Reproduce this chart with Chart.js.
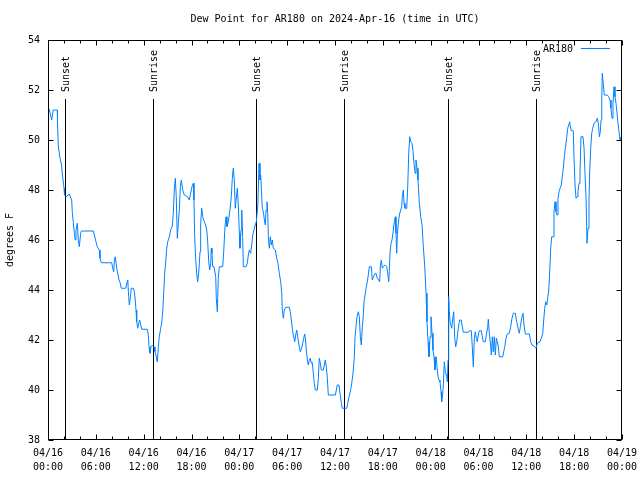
<!DOCTYPE html>
<html>
<head>
<meta charset="utf-8">
<script src="https://cdn.jsdelivr.net/npm/chart.js@4/dist/chart.umd.min.js"></script>
<style>
html,body{margin:0;padding:0;background:#fff;}
canvas{display:block;}
</style>
</head>
<body>
<canvas id="c" width="640" height="480"></canvas>
<script>
// Hours since 2024-04-16 00:00 UTC
const hours = [
0.00,0.16,0.46,0.66,1.17,1.19,1.29,1.51,1.69,1.84,2.01,2.07,2.26,2.67,2.85,2.97,3.05,3.17,3.30,3.42,
3.51,3.68,3.80,3.93,4.10,4.18,5.68,5.81,6.02,6.18,6.44,6.52,6.69,7.99,8.12,8.24,8.32,8.44,8.62,8.74,
8.91,9.07,9.19,9.75,9.91,10.00,10.12,10.20,10.32,10.45,10.70,10.83,10.95,11.04,11.13,11.25,11.38,11.50,11.63,11.75,
12.46,12.58,12.67,12.79,12.92,13.08,13.30,13.42,13.59,13.71,13.84,13.96,14.14,14.26,14.39,14.51,14.64,14.80,14.89,15.02,
15.22,15.39,15.59,15.72,15.84,15.97,16.09,16.22,16.35,16.47,16.60,16.72,16.90,17.10,17.52,17.72,17.90,18.06,18.23,18.31,
18.40,18.53,18.65,18.78,18.90,19.07,19.15,19.28,19.41,19.53,19.78,19.91,20.03,20.16,20.28,20.41,20.48,20.57,20.66,20.82,
21.04,21.11,21.24,21.36,21.49,21.91,22.04,22.20,22.33,22.45,22.62,22.83,22.99,23.12,23.24,23.37,23.49,23.62,23.75,23.87,
24.00,24.08,24.21,24.30,24.42,24.50,24.84,25.00,25.13,25.25,25.43,25.55,25.68,25.84,26.00,26.13,26.32,26.47,26.59,26.68,
26.81,26.88,27.01,27.14,27.26,27.35,27.47,27.56,27.64,27.76,27.89,28.01,28.14,28.26,28.51,28.69,28.85,29.01,29.19,29.32,
29.39,29.52,29.64,29.82,30.27,30.39,30.52,30.64,30.77,30.95,31.07,31.20,31.32,31.49,31.65,31.82,31.95,32.07,32.20,32.30,
32.40,32.53,32.65,32.78,32.90,33.03,33.15,33.28,33.40,33.53,33.78,33.91,34.03,34.16,34.28,34.53,34.66,34.78,34.91,35.04,
35.16,36.04,36.17,36.29,36.50,36.63,36.79,36.92,37.47,37.60,37.76,37.92,38.10,38.26,38.42,38.51,38.64,38.76,38.93,39.05,
39.18,39.30,39.43,39.55,39.64,39.80,39.93,40.05,40.18,40.30,40.56,40.68,40.81,40.98,41.14,41.31,41.48,41.61,41.68,41.81,
41.93,42.06,42.24,42.49,42.61,42.74,42.81,42.90,43.03,43.15,43.32,43.44,43.57,43.65,43.74,43.82,43.94,44.07,44.24,44.37,
44.44,44.57,44.66,44.78,45.00,45.12,45.25,45.37,45.50,45.66,45.79,45.91,46.04,46.16,46.29,46.41,46.58,46.75,46.92,47.08,
47.26,47.42,47.54,47.67,47.79,47.92,48.04,48.17,48.29,48.42,48.54,48.67,48.80,48.92,49.05,49.17,49.30,49.38,49.51,49.59,
49.71,49.84,50.01,50.09,50.18,50.26,50.34,50.46,50.64,50.77,50.89,51.02,51.14,51.27,51.39,51.52,51.64,51.84,51.97,52.10,
52.72,52.85,53.10,53.22,53.35,53.48,53.60,53.73,53.85,53.98,54.10,54.35,54.48,54.60,54.86,54.98,55.16,55.23,55.36,55.53,
55.61,55.73,55.86,55.98,56.11,56.24,56.36,56.49,56.61,57.04,57.16,57.29,57.45,57.61,57.87,58.04,58.20,58.37,58.62,58.79,
58.96,59.12,59.25,59.42,59.58,59.71,59.87,60.38,60.55,60.71,60.96,61.21,61.38,61.72,61.88,62.06,62.18,62.31,62.43,62.56,
62.68,62.81,62.93,63.06,63.18,63.35,63.47,63.60,63.72,63.85,63.97,64.10,64.23,64.39,64.51,64.64,64.77,64.89,65.07,65.19,
65.32,65.44,65.52,65.64,65.89,65.98,66.11,66.23,66.36,66.48,66.61,66.73,66.86,67.11,67.24,67.36,67.49,67.61,67.74,67.86,
67.95,68.08,68.20,68.33,68.49,68.74,68.90,69.03,69.16,69.28,69.37,69.46,69.53,69.66,69.78,70.16,70.33,70.50,70.62,70.75,
70.87,71.00,71.12,71.25,71.38,71.50,71.63,71.75,71.88
];
// Dew point, degrees F
const dewPoint = [
51.23,51.23,50.80,51.20,51.20,50.73,49.76,49.27,49.00,48.53,48.07,47.80,47.73,47.84,47.68,47.60,47.10,46.70,46.30,46.00,
46.40,46.67,46.00,45.73,46.27,46.36,46.36,46.20,45.93,45.73,45.60,45.27,45.09,45.09,44.87,44.73,45.20,45.33,44.87,44.67,
44.40,44.27,44.07,44.07,44.33,44.40,43.73,43.40,43.67,44.07,44.07,43.93,43.60,43.20,42.73,42.47,42.67,42.80,42.60,42.43,
42.43,42.20,41.73,41.47,41.73,41.80,41.73,41.53,41.33,41.13,41.73,42.13,42.47,42.67,43.13,43.87,44.67,45.27,45.67,45.93,
46.13,46.40,46.56,47.07,48.00,48.47,47.73,46.07,46.67,47.20,48.13,48.40,48.00,47.80,47.73,47.60,47.87,48.13,48.27,47.60,
46.13,45.20,44.67,44.33,44.67,45.53,46.67,47.27,46.93,46.80,46.60,46.40,45.93,45.13,44.80,45.07,45.67,45.47,44.93,44.93,
44.53,43.67,43.13,44.47,44.93,44.93,45.53,46.53,46.93,46.53,46.73,47.20,47.73,48.47,48.87,48.40,47.27,47.67,48.07,47.40,
46.27,45.67,46.40,47.20,46.13,44.93,44.93,45.07,45.40,45.60,45.47,45.80,46.20,46.40,46.60,46.73,47.40,49.07,48.40,48.60,
47.73,47.27,47.13,46.80,46.60,47.20,47.53,47.07,46.13,45.67,46.13,45.80,46.00,45.67,45.60,45.27,45.07,44.67,44.33,43.87,
43.20,42.87,43.20,43.31,43.31,43.13,42.80,42.47,42.20,41.93,42.20,42.40,42.13,41.80,41.53,41.67,41.87,42.07,42.24,42.00,
41.60,41.20,41.00,41.20,41.27,41.07,41.10,40.67,40.27,40.00,40.00,40.47,41.27,41.07,40.80,40.80,41.00,41.20,40.93,40.47,
39.80,39.80,40.00,40.20,40.20,39.87,39.47,39.27,39.27,39.47,39.73,39.93,40.27,40.67,41.27,42.13,42.53,42.93,43.13,42.93,
42.13,41.80,42.53,43.00,43.53,43.87,44.13,44.33,44.60,44.93,44.93,44.40,44.53,44.64,44.67,44.47,44.40,44.33,44.93,45.20,
44.87,44.93,45.00,44.93,44.67,44.33,44.73,45.47,45.87,46.00,46.40,46.73,46.93,46.27,45.47,46.20,46.67,47.00,47.20,47.33,
47.73,48.00,47.47,47.27,47.27,48.13,49.47,50.13,49.93,49.87,49.53,49.07,48.67,49.20,48.87,48.40,47.47,46.93,46.60,45.73,
44.93,43.87,42.73,41.93,41.33,42.13,42.93,42.27,41.60,41.33,40.80,41.33,40.93,40.53,40.40,40.33,39.93,39.53,39.87,40.20,
41.13,40.73,40.53,40.33,41.20,43.73,43.13,42.67,42.47,42.87,43.13,42.07,41.73,41.93,42.27,42.60,42.80,42.80,42.53,42.31,
42.31,42.37,42.37,41.73,40.93,42.07,42.33,42.07,41.93,42.20,42.37,42.37,42.13,41.93,41.93,42.20,42.53,42.83,42.27,41.73,
41.40,42.13,41.53,42.13,41.40,42.07,41.93,41.73,41.33,41.33,41.53,41.73,42.07,42.24,42.27,42.53,42.87,43.07,43.07,42.73,
42.47,42.27,42.53,42.87,43.07,42.60,42.24,42.24,41.93,41.80,41.76,41.67,41.87,41.93,42.07,42.27,42.80,43.27,43.53,43.40,
43.67,44.00,44.73,45.67,46.13,46.13,47.13,47.53,47.13,47.00,47.67,47.93,48.07,48.20,48.53,48.87,49.33,49.67,50.13,50.47,
50.60,50.73,50.53,50.37,50.37,49.33,48.20,47.67,47.73,47.93,48.27,48.67,50.13,50.13,49.67,48.67,47.67,45.87,46.47,47.60,
48.73,49.67,50.27,50.47,50.67,50.73,50.87,50.67,50.13,50.33,50.80,51.67,52.67,52.20,51.80,51.80,51.73,51.60,51.27,50.87,
51.47,52.13,51.73,51.47,51.07,50.67,50.33,50.00,50.13
];
// Sunrise / sunset events (hours since start)
const eventHours = [2.17, 13.21, 26.13, 37.17, 50.20, 61.20];
const eventLabels = ['Sunset', 'Sunrise', 'Sunset', 'Sunrise', 'Sunset', 'Sunrise'];
// X tick labels every 6 hours
const tickDates = ['04/16','04/16','04/16','04/16','04/17','04/17','04/17','04/17','04/18','04/18','04/18','04/18','04/19'];
const tickTimes = ['00:00','06:00','12:00','18:00','00:00','06:00','12:00','18:00','00:00','06:00','12:00','18:00','00:00'];
const yTicks = [38, 40, 42, 44, 46, 48, 50, 52, 54];

const titleText = 'Dew Point for AR180 on 2024-Apr-16 (time in UTC)';
const yTitle = 'degrees F';
const seriesName = 'AR180';
const lineColor = 'rgb(0,128,255)';
const FONT = '"DejaVu Sans Mono", "Liberation Mono", monospace';

const decor = {
  id: 'decor',
  beforeDatasetsDraw(chart) {
    const {ctx, chartArea: a, scales: {x}} = chart;
    ctx.save();
    ctx.strokeStyle = '#000';
    ctx.lineWidth = 1;
    ctx.fillStyle = '#000';
    ctx.font = '10px ' + FONT;
    eventHours.forEach((h, i) => {
      const px = Math.round(x.getPixelForValue(h)) + 0.5;
      ctx.beginPath();
      ctx.moveTo(px, 99);
      ctx.lineTo(px, a.bottom);
      ctx.stroke();
      ctx.save();
      ctx.translate(px + 1, 92);
      ctx.rotate(-Math.PI / 2);
      ctx.textAlign = 'left';
      ctx.textBaseline = 'middle';
      ctx.fillText(eventLabels[i], 0, 0);
      ctx.restore();
    });
    ctx.restore();
  },
  afterDraw(chart) {
    const {ctx, chartArea: a, scales: {x, y}} = chart;
    ctx.save();
    ctx.strokeStyle = '#000';
    ctx.lineWidth = 1;
    const L = Math.round(a.left) + 0.5, R = Math.round(a.right) - 0.5;
    const T = Math.round(a.top) + 0.5, B = Math.round(a.bottom) - 0.5;
    ctx.strokeRect(L, T, R - L, B - T);
    ctx.beginPath();
    x.ticks.forEach(t => {
      const px = Math.round(x.getPixelForValue(t.value)) + 0.5;
      const len = (t.value % 6 === 0) ? 5 : 3;
      ctx.moveTo(px, B); ctx.lineTo(px, B - len);
      ctx.moveTo(px, T); ctx.lineTo(px, T + len);
    });
    y.ticks.forEach(t => {
      const py = Math.round(y.getPixelForValue(t.value)) + 0.5;
      ctx.moveTo(L, py); ctx.lineTo(L + 5, py);
      ctx.moveTo(R, py); ctx.lineTo(R - 5, py);
    });
    ctx.stroke();

    ctx.fillStyle = '#000';
    ctx.font = '10px ' + FONT;
    ctx.textAlign = 'center';
    ctx.textBaseline = 'middle';
    ctx.fillText(titleText, (a.left + a.right) / 2, 19);

    ctx.save();
    ctx.translate(10, (a.top + a.bottom) / 2);
    ctx.rotate(-Math.PI / 2);
    ctx.fillText(yTitle, 0, 0);
    ctx.restore();

    // legend
    ctx.textAlign = 'right';
    ctx.fillText(seriesName, 573, 49);
    ctx.strokeStyle = lineColor;
    ctx.beginPath();
    ctx.moveTo(581, 48.5);
    ctx.lineTo(610, 48.5);
    ctx.stroke();
    ctx.restore();
  }
};

new Chart(document.getElementById('c'), {
  type: 'line',
  data: {
    datasets: [{
      label: seriesName,
      data: hours.map((h, i) => ({x: h, y: dewPoint[i]})),
      borderColor: lineColor,
      borderWidth: 1,
      pointRadius: 0,
      tension: 0,
      fill: false
    }]
  },
  options: {
    responsive: false,
    animation: false,
    layout: {padding: {top: 40, right: 18, left: 0, bottom: 0}},
    plugins: {legend: {display: false}, title: {display: false}, tooltip: {enabled: false}},
    scales: {
      x: {
        type: 'linear', min: 0, max: 72,
        afterFit: s => { s.height = 40; s.paddingLeft = 0; s.paddingRight = 0; },
        grid: {display: false, drawTicks: false},
        border: {display: false},
        ticks: {
          stepSize: 2, autoSkip: false, maxRotation: 0, padding: 6,
          color: '#000',
          font: {family: FONT, size: 10, lineHeight: 1.4},
          callback: v => (v % 6 === 0) ? [tickDates[v / 6], tickTimes[v / 6]] : ''
        }
      },
      y: {
        min: 38, max: 54,
        afterFit: s => { s.width = 48; s.paddingTop = 0; s.paddingBottom = 0; },
        afterBuildTicks: s => { s.ticks = yTicks.map(v => ({value: v})); },
        grid: {display: false, drawTicks: false},
        border: {display: false},
        ticks: {padding: 8, color: '#000', font: {family: FONT, size: 10}}
      }
    }
  },
  plugins: [decor]
});
</script>
</body>
</html>
